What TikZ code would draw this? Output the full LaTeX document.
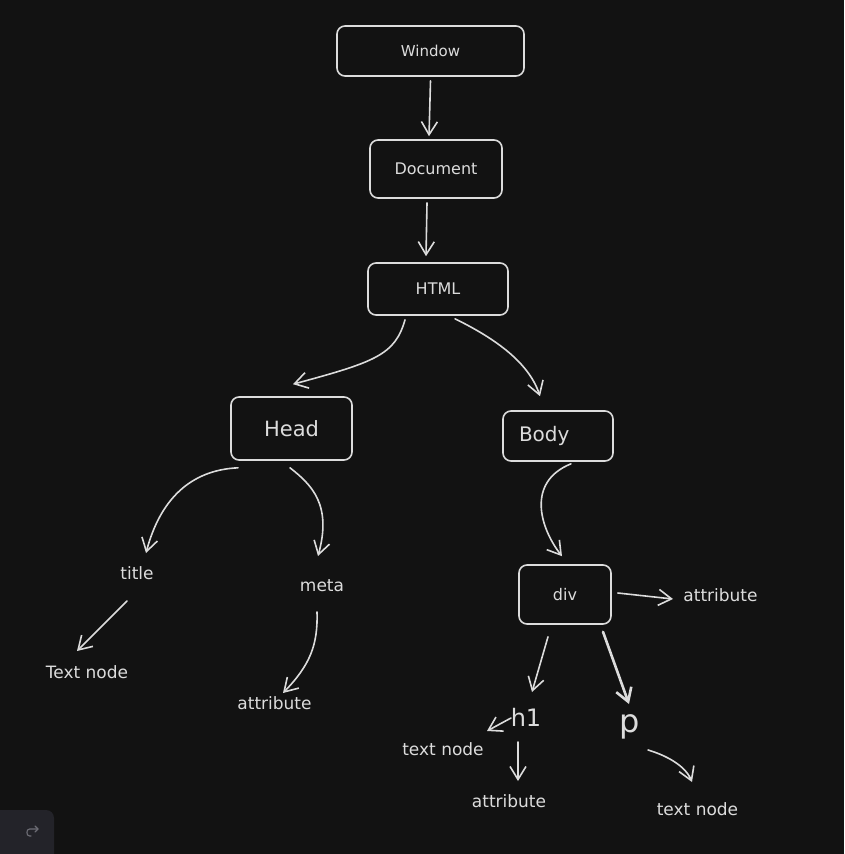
\documentclass[tikz,border=0pt]{standalone}
\usepackage{fontspec}
\setmainfont{DejaVu Sans}
\usetikzlibrary{arrows.meta,calc}
\definecolor{canvas}{HTML}{121212}
\definecolor{ink}{HTML}{DCDCDC}
\definecolor{btnfill}{HTML}{232329}
\definecolor{btnink}{HTML}{6E6E76}
\newcommand\setfs[1]{\fontsize{#1}{#1}\selectfont}

\begin{document}
\begin{tikzpicture}[x=1pt,y=-1pt,
  box/.style={draw=ink, line width=1.6pt, rounded corners=8pt, text=ink, inner sep=0pt},
  lbl/.style={text=ink, inner sep=0pt, font=\setfs{17}},
  arr/.style={draw=ink, line width=1.6pt, line cap=round,
    -{Straight Barb[length=13pt,width=16pt]}},
]
\useasboundingbox (0,0) rectangle (844,854);
\fill[canvas] (0,0) rectangle (844,854);

% boxed elements of the tree
\node[box, minimum width=187pt, minimum height=50pt, font=\setfs{15}] (win)  at (430.5,51)  {Window};
\node[box, minimum width=132pt, minimum height=58pt, font=\setfs{16}] (doc)  at (436,169)   {Document};
\node[box, minimum width=140pt, minimum height=52pt, font=\setfs{16}] (html) at (438,289)   {HTML};
\node[box, minimum width=121pt, minimum height=63pt, font=\setfs{21}] (head) at (291.5,428.5) {Head};
\node[box, minimum width=110pt, minimum height=50pt, font=\setfs{20}] (body) at (558,436)   {\makebox[78pt][l]{Body}};
\node[box, minimum width=92pt,  minimum height=59pt, font=\setfs{16}] (div)  at (565,594.5) {div};

% plain text leaves
\node[lbl] (title) at (137,573)   {title};
\node[lbl] (meta)  at (322,586)   {meta};
\node[lbl] (tn1)   at (87,672)    {Text node};
\node[lbl] (at1)   at (274.5,703) {attribute};
\node[lbl] (at2)   at (720.5,595) {attribute};
\node[lbl, font=\setfs{24}] (h1) at (526,717) {h1};
\node[lbl, font=\setfs{32}] (p)  at (630,727) {p};
\node[lbl] (tn2)   at (443,749)   {text node};
\node[lbl] (at3)   at (509,801)   {attribute};
\node[lbl] (tn3)   at (697.5,809) {text node};

% connectors
\draw[arr] ($(win.south)+(0,4)$) -- ($(doc.north)+(-7,-3)$);
\draw[arr] ($(doc.south)+(-9,4)$) -- ($(html.north)+(-12,-6)$);
\draw[arr] ($(html.south)+(-33,4)$) .. controls (395,355) and (375,362) .. ($(head.north)+(1.5,-12)$);
\draw[arr] ($(html.south)+(17,3)$) .. controls (490,336) and (528,360) .. ($(body.north)+(-18,-14)$);
\draw[arr] ($(head.south)+(-53.5,7)$) .. controls (190,470) and (160,500) .. ($(title.center)+(9,-20)$);
\draw[arr] ($(head.south)+(-1.5,7)$) .. controls (312,485) and (332,505) .. ($(meta.center)+(-4,-30)$);
\draw[arr] ($(title.center)+(-10,28)$) -- ($(tn1.center)+(-10,-21)$);
\draw[arr] ($(meta.center)+(-5,26)$) .. controls (318,645) and (310,665) .. ($(at1.center)+(8.5,-10)$);
\draw[arr] ($(body.south)+(13,2)$) .. controls (526,482) and (540,528) .. ($(div.north)+(-3,-8)$);
\draw[arr] ($(div.east)+(6,-1.5)$) -- ($(at2.center)+(-47.5,4)$);
\draw[arr] ($(div.south)+(-17,12)$) -- ($(h1.center)+(6,-25)$);
\draw[arr, line width=2.6pt] ($(div.south)+(38,7)$) -- ($(p.center)+(-1,-23)$);
\draw[arr] ($(h1.center)+(-15,1)$) -- ($(tn2.center)+(44,-18)$);
\draw[arr] ($(h1.center)+(-8,25)$) -- ($(at3.center)+(9,-20)$);
\draw[arr] ($(p.center)+(18,23)$) .. controls (665,755) and (685,765) .. ($(tn3.center)+(-5.5,-27)$);

% corner button
\begin{scope}
  \clip (0,0) rectangle (844,854);
  \fill[btnfill, rounded corners=8pt] (-10,810) rectangle (54,864);
  \draw[btnink, line width=1.1pt, line cap=round, line join=round]
    (31,836) -- (29.5,836) .. controls (26,836) and (26,829) .. (29.5,829) -- (38,829);
  \draw[btnink, line width=1.1pt, line cap=round, line join=round]
    (35,826) -- (38,829) -- (35,832);
\end{scope}
\end{tikzpicture}
\end{document}
